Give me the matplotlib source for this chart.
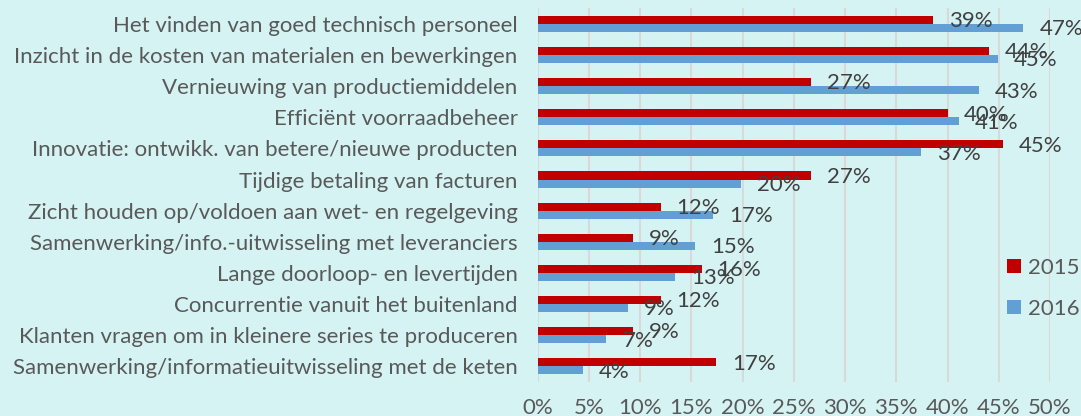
import matplotlib
matplotlib.use("Agg")
import matplotlib.pyplot as plt
from matplotlib.patches import Patch
from matplotlib.ticker import FuncFormatter, MultipleLocator
import numpy as np

categories = [
    "Het vinden van goed technisch personeel",
    "Inzicht in de kosten van materialen en bewerkingen",
    "Vernieuwing van productiemiddelen",
    "Efficiënt voorraadbeheer",
    "Innovatie: ontwikk. van betere/nieuwe producten",
    "Tijdige betaling van facturen",
    "Zicht houden op/voldoen aan wet- en regelgeving",
    "Samenwerking/info.-uitwisseling met leveranciers",
    "Lange doorloop- en levertijden",
    "Concurrentie vanuit het buitenland",
    "Klanten vragen om in kleinere series te produceren",
    "Samenwerking/informatieuitwisseling met de keten",
]
values_2015 = [38.6, 44.0, 26.7, 40.0, 45.4, 26.7, 12.0, 9.3, 16.0, 12.0, 9.3, 17.4]
values_2016 = [47.4, 44.9, 43.1, 41.1, 37.4, 19.8, 17.1, 15.4, 13.4, 8.8, 6.7, 4.4]
series_names = ["2015", "2016"]

BG = "#D5F3F3"
RED = "#C00000"
BLUE = "#629FD4"
GRID = "#D9D9D9"
TXT = "#595959"
LBL = "#404040"

plt.rcParams['font.family'] = ['Lato', 'DejaVu Sans']

fig = plt.figure(figsize=(10.81, 4.16), dpi=100, facecolor=BG)
ax = fig.add_axes([0.4974, 0.0822, 0.9713 - 0.4974, 0.980 - 0.0822])
ax.set_facecolor(BG)

y = np.arange(len(categories))
h = 0.26
ax.barh(y - h / 2, values_2015, height=h, color=RED, zorder=3, label=series_names[0])
ax.barh(y + h / 2, values_2016, height=h, color=BLUE, zorder=3, label=series_names[1])

fs = 16
for yi, v in zip(y, values_2015):
    ax.annotate(f"{round(v)}%", xy=(v, yi - h / 2), xytext=(11.5, -1), textcoords="offset points",
                ha="left", va="center", fontsize=fs, color=LBL, zorder=5)
for yi, v in zip(y, values_2016):
    ax.annotate(f"{round(v)}%", xy=(v, yi + h / 2), xytext=(11.5, -1), textcoords="offset points",
                ha="left", va="center", fontsize=fs, color=LBL, zorder=5)

ax.set_xlim(0, 50)
ax.set_ylim(len(categories) - 0.5, -0.5)
ax.xaxis.set_major_locator(MultipleLocator(5))
ax.xaxis.set_major_formatter(FuncFormatter(lambda x, p: f"{x:.0f}%"))
ax.set_yticks(y)
ax.set_yticklabels(categories)
ax.tick_params(axis="y", length=0, pad=14.5, labelsize=fs, labelcolor=TXT)
ax.tick_params(axis="x", length=0, pad=11.5, labelsize=fs, labelcolor=TXT)
ax.grid(axis="x", color=GRID, linewidth=1.5, zorder=0)
for s in ax.spines.values():
    s.set_visible(False)

handles = [Patch(facecolor=RED, edgecolor="none"), Patch(facecolor=BLUE, edgecolor="none")]
leg = ax.legend(handles, series_names, loc="center left", bbox_to_anchor=(0.9316, 0.3065),
                bbox_transform=fig.transFigure, frameon=False, fontsize=fs,
                handlelength=0.62, handleheight=0.62, handletextpad=0.3,
                labelspacing=0.95, borderpad=0, borderaxespad=0)
for t in leg.get_texts():
    t.set_color(TXT)

fig.savefig("out.png", dpi=100, facecolor=BG)
